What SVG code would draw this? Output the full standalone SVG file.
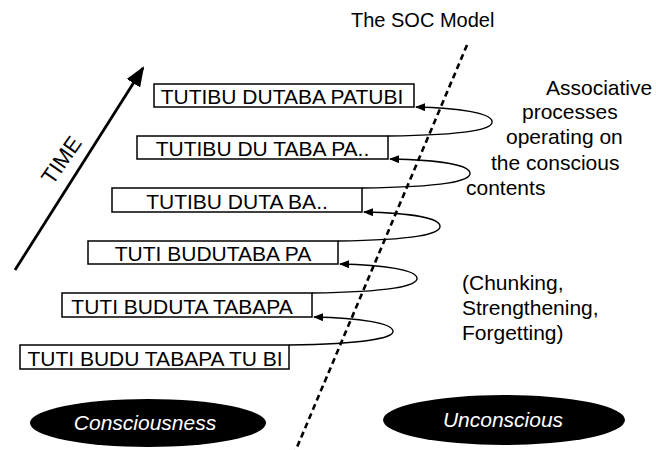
<svg xmlns="http://www.w3.org/2000/svg" width="656" height="450" viewBox="0 0 656 450">
  <defs>
    <marker id="ah" markerWidth="10" markerHeight="8" refX="9" refY="4" orient="auto" markerUnits="userSpaceOnUse">
      <path d="M0,0 L10,4 L0,8 Z" fill="#000"/>
    </marker>
    <marker id="bigah" markerWidth="20" markerHeight="16" refX="18" refY="8" orient="auto" markerUnits="userSpaceOnUse">
      <path d="M0,0 L20,8 L0,16 Z" fill="#000"/>
    </marker>
    <style>
      text { font-family: "Liberation Sans", Arial, Helvetica, sans-serif; font-size: 21px; fill: #000; }
      .box rect { fill: #fff; stroke: #000; stroke-width: 1.5; }
      .box text { text-anchor: middle; }
      .loop { fill: none; stroke: #000; stroke-width: 1.4; marker-end: url(#ah); }
      .ell ellipse { fill: #000; }
      .ell text { fill: #fff; font-style: italic; text-anchor: middle; }
    </style>
  </defs>
  <rect width="656" height="450" fill="#fff"/>

  <text id="title" x="351" y="27" style="font-size:20px">The SOC Model</text>

  <!-- dashed divider -->
  <line x1="467" y1="45" x2="295" y2="452" stroke="#000" stroke-width="2.6" stroke-dasharray="6,4"/>

  <!-- time arrow -->
  <g id="time">
    <line x1="15" y1="270" x2="143" y2="68" stroke="#000" stroke-width="2.8" marker-end="url(#bigah)"/>
    <text transform="translate(61,160) rotate(-55)" text-anchor="middle" y="8" style="font-size:22px">TIME</text>
  </g>

  <g id="connectors">
    <path class="loop" d="M388,136 C470,135 494,129 492,121 C490,113 460,108 416,107"/>
    <path class="loop" d="M362,188 C445,187 471,181 470,173 C469,165 440,160 390,159"/>
    <path class="loop" d="M338,241 C415,240 441,234 440,226 C439,218 410,213 364,212"/>
    <path class="loop" d="M312,293 C390,292 418,286 417,278 C416,270 385,265 340,264"/>
    <path class="loop" d="M289,345 C365,344 394,338 393,331 C392,323 360,318 314,317"/>
  </g>

  <g id="box1" class="box"><rect x="154" y="84" width="260" height="23"/><text x="282" y="103.5">TUTIBU DUTABA PATUBI</text></g>
  <g id="box2" class="box"><rect x="137" y="136" width="251" height="23"/><text x="262.5" y="155.5">TUTIBU DU TABA PA..</text></g>
  <g id="box3" class="box"><rect x="112" y="188" width="250" height="24"/><text x="237" y="208.5">TUTIBU DUTA BA..</text></g>
  <g id="box4" class="box"><rect x="88" y="241" width="250" height="23"/><text x="213" y="260.5">TUTI BUDUTABA PA</text></g>
  <g id="box5" class="box"><rect x="62" y="293" width="250" height="24"/><text x="182" y="313.5">TUTI BUDUTA TABAPA</text></g>
  <g id="box6" class="box"><rect x="20" y="345" width="269" height="24"/><text x="155" y="365.5">TUTI BUDU TABAPA TU BI</text></g>

  <g id="assoc">
    <text x="546" y="95">Associative</text>
    <text x="522" y="119">processes</text>
    <text x="506" y="144">operating on</text>
    <text x="491" y="170">the conscious</text>
    <text x="466" y="195">contents</text>
  </g>

  <g id="chunk">
    <text x="462" y="290">(Chunking,</text>
    <text x="462" y="315">Strengthening,</text>
    <text x="462" y="340">Forgetting)</text>
  </g>

  <g id="consciousness" class="ell"><ellipse cx="148" cy="423" rx="118" ry="24"/><text x="145" y="430">Consciousness</text></g>
  <g id="unconscious" class="ell"><ellipse cx="504" cy="420" rx="121" ry="25"/><text x="503" y="427">Unconscious</text></g>
</svg>
